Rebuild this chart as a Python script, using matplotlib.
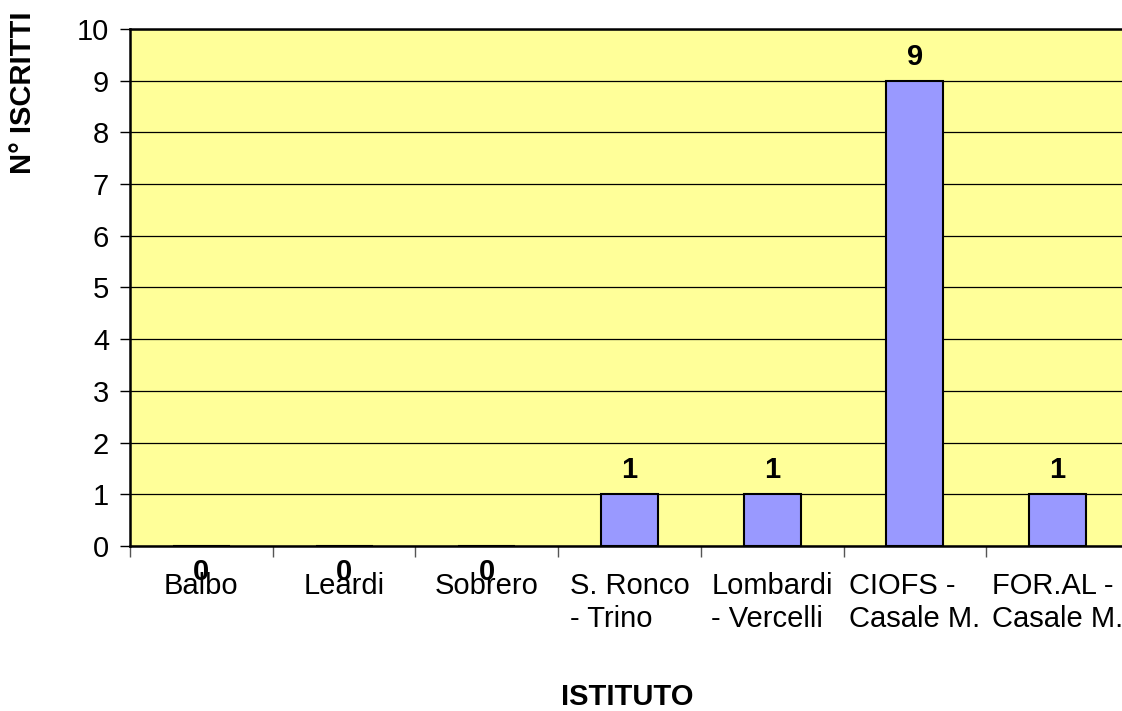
import matplotlib.pyplot as plt

#names of the schools and number of enrolled students
istituti = ['Balbo', 'Leardi', 'Sobrero', 'S. Ronco\n- Trino', 'Lombardi\n- Vercelli',
            'CIOFS -\nCasale M.', 'FOR.AL -\nCasale M.']
iscritti = [0, 0, 0, 1, 1, 9, 1]
y_ticks = [0, 1, 2, 3, 4, 5, 6, 7, 8, 9, 10]

plt.rcParams['font.family'] = 'Liberation Sans'

fig = plt.figure(figsize=(11.22, 7.11), dpi=100)
#plot area goes slightly past the right edge like in the original
ax = fig.add_axes([0.1159, 0.2321, 0.8903, 0.7271])
ax.set_facecolor('#FFFF99')

x = list(range(len(istituti)))
ax.bar(x, iscritti, width=0.4, color='#9999FF', edgecolor='black', linewidth=1.5, zorder=3)

ax.set_xlim(-0.5, len(istituti) - 0.5)
ax.set_ylim(0, 10)
ax.set_yticks(y_ticks)
ax.yaxis.grid(True, color='black', linewidth=0.9, zorder=1)
ax.set_axisbelow(True)

#category labels in the middle, ticks on the boundaries
ax.set_xticks(x)
ax.set_xticklabels(istituti, fontsize=21, linespacing=1.2, multialignment='left')
ax.tick_params(axis='x', length=0, pad=19)
ax.set_xticks([i - 0.5 for i in range(len(istituti) + 1)], minor=True)
ax.tick_params(axis='x', which='minor', length=8, width=1, color='#555555', direction='out')
ax.tick_params(axis='y', labelsize=21, length=7, width=1, direction='out', pad=8)

for side in ['left', 'bottom', 'top']:
    ax.spines[side].set_linewidth(1.8)
    ax.spines[side].set_color('black')
ax.spines['right'].set_visible(False)

#value labels, excel puts the zero ones under the axis
for i, v in enumerate(iscritti):
    off = 11.5 if v > 0 else -24.5
    ax.annotate(str(v), xy=(i, v), xytext=(0, off), textcoords='offset points',
                ha='center', va='baseline', fontsize=21, fontweight='bold', zorder=5,
                annotation_clip=False)

fig.text(23 / 1122, 1 - 93 / 711, 'N° ISCRITTI', rotation=90, ha='center', va='center',
         fontsize=21, fontweight='bold')
fig.text(627 / 1122, 1 - 697 / 711, 'ISTITUTO', ha='center', va='center',
         fontsize=21, fontweight='bold')

fig.savefig('out.png', dpi=100)
